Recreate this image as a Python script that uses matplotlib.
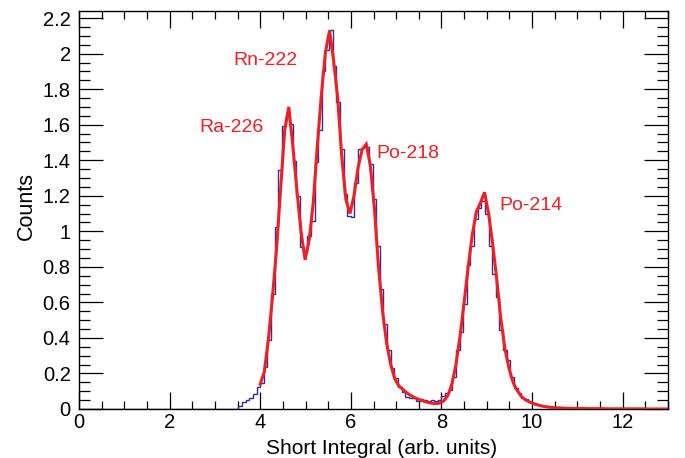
import numpy as np
import matplotlib
matplotlib.use("Agg")
import matplotlib.pyplot as plt
from matplotlib.ticker import MultipleLocator, FuncFormatter

# ---------------- data ----------------
bin_width = 0.08
# histogram contents, bins of width 0.08 starting at 0 (first 44 bins empty)
counts = [0.0] * 44 + [
    0.018, 0.041, 0.050, 0.060, 0.084, 0.125, 0.144, 0.237, 0.387, 0.645,   # 3.52 - 4.32
    1.023, 1.345, 1.594, 1.660, 1.603, 1.393, 1.200, 0.910, 0.877, 0.973,   # 4.32 - 5.12
    1.060, 1.388, 1.570, 1.900, 2.020, 2.134, 1.930, 1.730, 1.463, 1.210,   # 5.12 - 5.92
    1.089, 1.080, 1.270, 1.463, 1.476, 1.476, 1.379, 1.182, 0.920, 0.677,   # 5.92 - 6.72
    0.481, 0.331, 0.228, 0.172, 0.122, 0.097, 0.069, 0.060, 0.060, 0.047,   # 6.72 - 7.52
    0.056, 0.050, 0.045, 0.050, 0.045, 0.050, 0.073, 0.088, 0.107, 0.181,   # 7.52 - 8.32
    0.331, 0.434, 0.593, 0.810, 0.920, 1.070, 1.130, 1.173, 1.098, 0.920,   # 8.32 - 9.12
    0.761, 0.630, 0.443, 0.331, 0.275, 0.181, 0.116, 0.088, 0.060, 0.055,   # 9.12 - 9.92
    0.041, 0.035, 0.028, 0.020, 0.019, 0.013, 0.013, 0.009, 0.013, 0.006,   # 9.92 - 10.72
    0.004, 0.004, 0.006, 0.004, 0.004, 0.006, 0.004, 0.002, 0.004, 0.002,   # 10.72 - 11.52
    0.002, 0.004, 0.002, 0.002, 0.000, 0.002, 0.000, 0.002, 0.000, 0.000,   # 11.52 - 12.32
    0.002, 0.000, 0.000, 0.002, 0.000, 0.000, 0.000, 0.000, 0.000,          # 12.32 - 13.04
]

# fitted function sampled on 101 points between 4 and 13
fit_xmin, fit_xmax = 4.0, 13.0
fit_y = [
    0.140, 0.210, 0.390, 0.630, 0.900, 1.240, 1.570, 1.700, 1.480, 1.230,
    1.000, 0.840, 0.950, 1.160, 1.480, 1.770, 2.010, 2.130, 1.960, 1.750,
    1.420, 1.180, 1.100, 1.200, 1.360, 1.460, 1.490, 1.370, 1.130, 0.800,
    0.550, 0.370, 0.250, 0.170, 0.130, 0.110, 0.090, 0.075, 0.063, 0.053,
    0.045, 0.038, 0.033, 0.030, 0.033, 0.045, 0.075, 0.140, 0.250, 0.410,
    0.600, 0.800, 0.980, 1.110, 1.160, 1.220, 1.100, 0.930, 0.730, 0.510,
    0.340, 0.230, 0.150, 0.105, 0.072, 0.052, 0.040, 0.030, 0.023, 0.017,
    0.013, 0.010, 0.008, 0.006, 0.005, 0.004, 0.004, 0.003, 0.003, 0.003,
    0.002, 0.002, 0.002, 0.002, 0.002, 0.001, 0.001, 0.001, 0.001, 0.001,
    0.001, 0.001, 0.001, 0.001, 0.001, 0.000, 0.000, 0.000, 0.000, 0.000,
    0.000,
]

peak_labels = ["Rn-222", "Ra-226", "Po-218", "Po-214"]
label_pos = [(3.40, 1.936), (2.65, 1.561), (6.57, 1.411), (9.27, 1.120)]

xlabel = "Short Integral (arb. units)"
ylabel = "Counts"

# ---------------- plot ----------------
font = "Liberation Sans"
plt.rcParams["font.family"] = [font, "DejaVu Sans"]

fig = plt.figure(figsize=(6.85, 4.58), dpi=100)
ax = fig.add_axes([79 / 685, 49 / 458, 589 / 685, 398 / 458])

edges = np.arange(len(counts) + 1) * bin_width
ax.stairs(counts, edges, color="#2e2e96", lw=1.0, zorder=2)

fit_x = np.linspace(fit_xmin, fit_xmax, len(fit_y))
ax.plot(fit_x, fit_y, color="#ee2025", lw=2.2, zorder=3, solid_joinstyle="miter")

for txt, (x, y) in zip(peak_labels, label_pos):
    ax.text(x, y, txt, color="#ee2025", fontsize=14, ha="left", va="baseline")

ax.set_xlim(0, 13)
ax.set_ylim(0, 2.24)

ax.xaxis.set_major_locator(MultipleLocator(2))
ax.xaxis.set_minor_locator(MultipleLocator(0.5))
ax.yaxis.set_major_locator(MultipleLocator(0.2))
ax.yaxis.set_minor_locator(MultipleLocator(0.05))

fmt = FuncFormatter(lambda v, p: f"{v:.10g}" if abs(v) > 1e-9 else "0")
ax.xaxis.set_major_formatter(fmt)
ax.yaxis.set_major_formatter(FuncFormatter(lambda v, p: f"{round(v, 2):g}"))

ax.tick_params(axis="both", which="both", direction="in", top=True, right=True,
               labelsize=14.5, width=0.9, colors="black")
ax.tick_params(axis="x", which="major", length=12, pad=3)
ax.tick_params(axis="x", which="minor", length=6)
ax.tick_params(axis="y", which="major", length=17, pad=6)
ax.tick_params(axis="y", which="minor", length=8)

for s in ax.spines.values():
    s.set_linewidth(1.0)

ax.set_xlabel(xlabel, fontsize=15)
ax.set_ylabel(ylabel, fontsize=15.5)
ax.xaxis.set_label_coords(0.514, -0.075)
ax.yaxis.set_label_coords(-0.072, 0.51)

fig.savefig("out.png", dpi=100)
